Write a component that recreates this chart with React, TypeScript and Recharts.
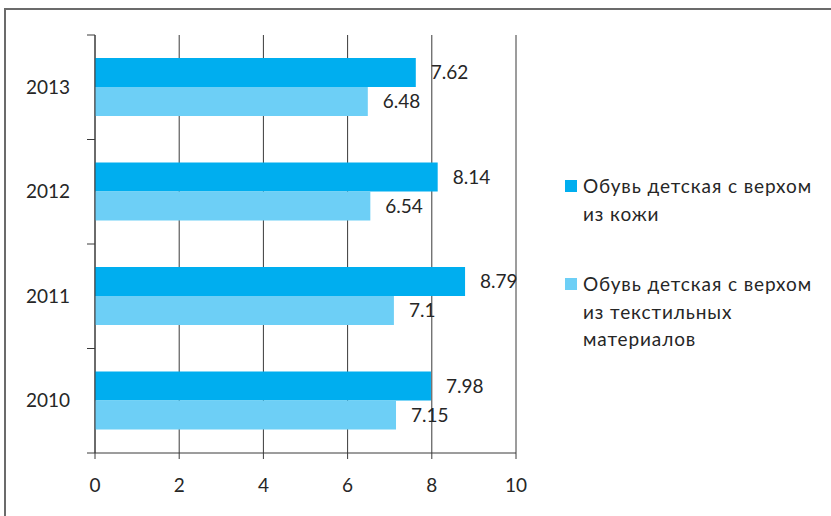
import React from "react";
import { BarChart, Bar, XAxis, YAxis, CartesianGrid, LabelList } from "recharts";

// Categories top to bottom, as shown in the chart
const years = ["2013", "2012", "2011", "2010"];
const leather = [7.62, 8.14, 8.79, 7.98];
const textile = [6.48, 6.54, 7.1, 7.15];
const xTicks = [0, 2, 4, 6, 8, 10];

const seriesNames = [
  ["Обувь детская с верхом", "из кожи"],
  ["Обувь детская с верхом", "из текстильных", "материалов"],
];
const colors = ["#00aeef", "#6dcff6"];

const FONT = "Lato, 'Open Sans', 'DejaVu Sans', sans-serif";
const TEXT = "#262626";
const LINE = "#3a3a3a";

const data = years.map((y, i) => ({ year: y, leather: leather[i], textile: textile[i] }));

const PLOT_TOP = 35;
const PLOT_BOTTOM = 453;
const band = (PLOT_BOTTOM - PLOT_TOP) / years.length;

// Y tick: label at band centre, tick marks on band boundaries (Excel style)
const YTick = (props: any) => {
  const { x, y, payload, index } = props;
  const axisX = x + 8;
  const isLast = index === years.length - 1;
  return (
    <g>
      <line x1={axisX - 8} x2={axisX} y1={y - band / 2} y2={y - band / 2} stroke={LINE} />
      {isLast && (
        <line x1={axisX - 8} x2={axisX} y1={y + band / 2} y2={y + band / 2} stroke={LINE} />
      )}
      <text x={axisX - 25} y={y} dy="0.35em" textAnchor="end" fill={TEXT} fontSize={19} fontFamily={FONT}>
        {payload.value}
      </text>
    </g>
  );
};

export default function App() {
  return (
    <div style={{ position: "fixed", left: 0, top: 0, width: 831, height: 516, overflow: "hidden", background: "#fff" }}>
      <div
        style={{
          position: "absolute",
          left: 4,
          top: 8,
          width: 900,
          height: 600,
          borderLeft: "2px solid #6b6b6b",
          borderTop: "2px solid #6b6b6b",
        }}
      />
      <div style={{ position: "absolute", left: 0, top: 0 }}>
        <BarChart
          width={831}
          height={516}
          data={data}
          layout="vertical"
          margin={{ top: PLOT_TOP, right: 315, bottom: 33, left: 0 }}
          barCategoryGap="22%"
          barGap={0}
        >
          <CartesianGrid horizontal={false} stroke={LINE} strokeWidth={1} />
          <XAxis
            type="number"
            domain={[0, 10]}
            ticks={xTicks}
            height={30}
            stroke={LINE}
            tickSize={6}
            tickMargin={20}
            tick={{ fill: TEXT, fontSize: 19, fontFamily: FONT }}
          />
          <YAxis
            type="category"
            dataKey="year"
            width={95}
            stroke={LINE}
            tickLine={false}
            tick={<YTick />}
          />
          <Bar dataKey="leather" fill={colors[0]} isAnimationActive={false}>
            <LabelList dataKey="leather" position="right" offset={15} fill={TEXT} fontSize={19} fontFamily={FONT} />
          </Bar>
          <Bar dataKey="textile" fill={colors[1]} isAnimationActive={false}>
            <LabelList dataKey="textile" position="right" offset={15} fill={TEXT} fontSize={19} fontFamily={FONT} />
          </Bar>
        </BarChart>
      </div>
      {/* Legend */}
      <div
        style={{
          position: "absolute",
          left: 565,
          top: 172,
          fontFamily: FONT,
          fontSize: 19,
          letterSpacing: "0.9px",
          color: TEXT,
          lineHeight: "27.5px",
        }}
      >
        {seriesNames.map((lines, i) => (
          <div key={i} style={{ position: "relative", paddingLeft: 18, marginBottom: i === 0 ? 43 : 0 }}>
            <span
              style={{
                position: "absolute",
                left: 0,
                top: 8,
                width: 12,
                height: 12,
                background: colors[i],
              }}
            />
            {lines.map((l, j) => (
              <div key={j} style={{ whiteSpace: "nowrap" }}>{l}</div>
            ))}
          </div>
        ))}
      </div>
    </div>
  );
}
